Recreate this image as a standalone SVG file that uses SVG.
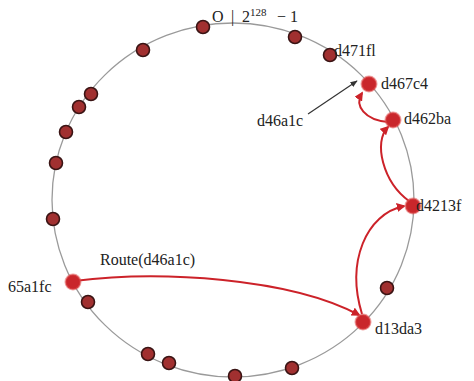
<svg xmlns="http://www.w3.org/2000/svg" width="474" height="381" viewBox="0 0 474 381">
<style>
text{font-family:"Liberation Serif","Times New Roman",serif;font-size:16px;fill:#222}
.ring{fill:none;stroke:#9a9a9a;stroke-width:1.3}
.n{fill:#a13030;stroke:#3a1414;stroke-width:1.6}
.h{fill:#c9262b;stroke:#e05050;stroke-opacity:0.55;stroke-width:2}
.r{fill:none;stroke:#cc2229;stroke-width:2;marker-end:url(#ar)}
.k{fill:none;stroke:#333;stroke-width:1.2;marker-end:url(#ak)}
</style>
<defs>
<marker id="ar" viewBox="0 0 10 10" refX="8" refY="5" markerWidth="4.5" markerHeight="4.5" orient="auto" markerUnits="strokeWidth"><path d="M0,0 L10,5 L0,10 z" fill="#cc2229"/></marker>
<marker id="ak" viewBox="0 0 10 10" refX="9" refY="5" markerWidth="6" markerHeight="6" orient="auto" markerUnits="strokeWidth"><path d="M0,1 L10,5 L0,9 z" fill="#333"/></marker>
</defs>
<ellipse class="ring" cx="233" cy="200" rx="181" ry="177"/>
<g id="connectors">
<path class="r" d="M74,281 C160,270 290,278 359,315"/>
<path class="r" d="M362,314 C346,262 366,214 404,206"/>
<path class="r" d="M409,201 C383,182 373,142 388,127"/>
<path class="r" d="M388,122 C365,120 354,106 362,93"/>
<path class="k" d="M308,114 L357,81"/>
</g>
<g id="nodes-plain">
<circle class="n" cx="203" cy="27" r="6.5"/>
<circle class="n" cx="295" cy="37" r="6.5"/>
<circle class="n" cx="330" cy="55" r="6.5"/>
<circle class="n" cx="387" cy="288" r="6.5"/>
<circle class="n" cx="292" cy="368" r="6.5"/>
<circle class="n" cx="235" cy="376" r="6.5"/>
<circle class="n" cx="169" cy="363" r="6.5"/>
<circle class="n" cx="148" cy="354" r="6.5"/>
<circle class="n" cx="88" cy="302" r="6.5"/>
<circle class="n" cx="53" cy="219" r="6.5"/>
<circle class="n" cx="56" cy="163" r="6.5"/>
<circle class="n" cx="66" cy="132" r="6.5"/>
<circle class="n" cx="79" cy="107" r="6.5"/>
<circle class="n" cx="91" cy="94" r="6.5"/>
<circle class="n" cx="143" cy="50" r="6.5"/>
</g>
<g id="node-d467c4"><circle class="h" cx="369" cy="84" r="7.5"/><text x="381" y="89">d467c4</text></g>
<g id="node-d462ba"><circle class="h" cx="393" cy="120" r="7.5"/><text x="404" y="124">d462ba</text></g>
<g id="node-d4213f"><circle class="h" cx="413" cy="206" r="7.5"/><text x="416" y="211">d4213f</text></g>
<g id="node-d13da3"><circle class="h" cx="363" cy="322" r="7.5"/><text x="375" y="334">d13da3</text></g>
<g id="node-65a1fc"><circle class="h" cx="73" cy="282" r="7.5"/><text x="8" y="292">65a1fc</text></g>
<g id="labels">
<text y="22"><tspan x="212">O</tspan><tspan x="231">|</tspan><tspan x="242">2</tspan><tspan font-size="11" dy="-6">128</tspan><tspan dy="6" x="277">− 1</tspan></text>
<text x="334" y="56">d471fl</text>
<text x="257" y="126">d46a1c</text>
<text x="100" y="265">Route(d46a1c)</text>
</g>
</svg>
